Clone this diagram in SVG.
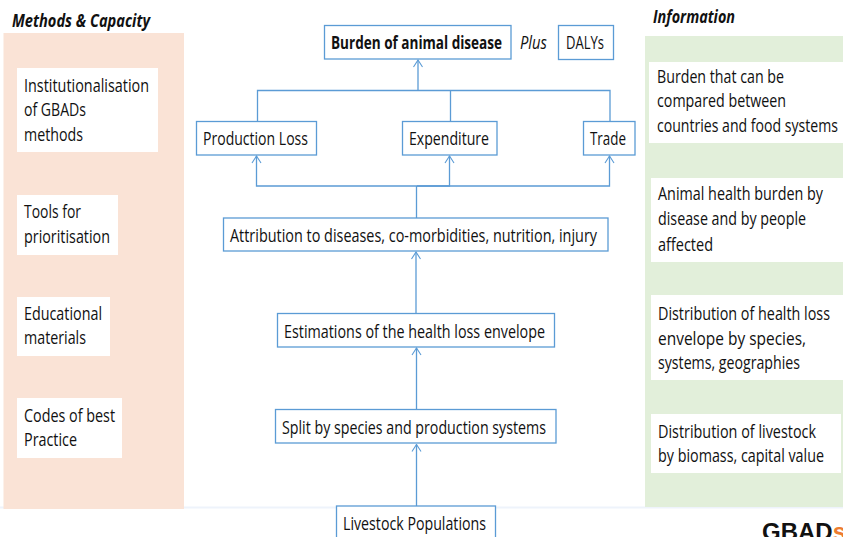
<svg xmlns="http://www.w3.org/2000/svg" width="843" height="537" viewBox="0 0 843 537">
<defs>
<marker id="arr" markerUnits="userSpaceOnUse" markerWidth="10" markerHeight="12" refX="9" refY="6" orient="auto" viewBox="0 0 10 12"><path d="M2 1.500 L9 6 L2 10.500" fill="none" stroke="#5b9bd5" stroke-width="1.100"/></marker>
</defs>
<style>
text{font-family:"Open Sans","Liberation Sans",sans-serif;font-size:18px;fill:#111;}
.b{fill:#fff;stroke:#5b9bd5;stroke-width:1.300;}
.w{fill:#fff;}
.c{fill:none;stroke:#5b9bd5;stroke-width:1.300;}
.i{font-style:italic;}
.t{font-weight:700;}
</style>
<rect width="843" height="537" fill="#fff"/>
<path d="M0 507.500H843" stroke="#eef3fb" stroke-width="2"/>
<g id="panel-methods">
<rect x="3.500" y="33" width="180.500" height="476" fill="#fae3d6"/>
<text class="i t" x="12" y="27" textLength="138" lengthAdjust="spacingAndGlyphs">Methods &amp; Capacity</text>
</g>
<g id="panel-information">
<rect x="645" y="36" width="198" height="471" fill="#e2efda"/>
<text class="i t" x="653" y="23" textLength="82" lengthAdjust="spacingAndGlyphs">Information</text>
</g>
<g id="m1"><rect class="w" x="17" y="68" width="141" height="84"/>
<text x="24" y="92" textLength="125" lengthAdjust="spacingAndGlyphs">Institutionalisation</text>
<text x="24" y="116" textLength="62" lengthAdjust="spacingAndGlyphs">of GBADs</text>
<text x="24" y="141" textLength="59" lengthAdjust="spacingAndGlyphs">methods</text></g>
<g id="m2"><rect class="w" x="17" y="195" width="101" height="60"/>
<text x="24" y="218" textLength="57" lengthAdjust="spacingAndGlyphs">Tools for</text>
<text x="24" y="243" textLength="86" lengthAdjust="spacingAndGlyphs">prioritisation</text></g>
<g id="m3"><rect class="w" x="17" y="297" width="93" height="59"/>
<text x="24" y="320" textLength="78" lengthAdjust="spacingAndGlyphs">Educational</text>
<text x="24" y="344" textLength="62" lengthAdjust="spacingAndGlyphs">materials</text></g>
<g id="m4"><rect class="w" x="17" y="398" width="105" height="60"/>
<text x="24" y="422" textLength="91" lengthAdjust="spacingAndGlyphs">Codes of best</text>
<text x="24" y="446" textLength="53" lengthAdjust="spacingAndGlyphs">Practice</text></g>
<g id="i1"><rect class="w" x="649" y="62" width="194" height="81"/>
<text x="657" y="83" textLength="127" lengthAdjust="spacingAndGlyphs">Burden that can be</text>
<text x="657" y="107" textLength="129" lengthAdjust="spacingAndGlyphs">compared between</text>
<text x="657" y="132" textLength="181" lengthAdjust="spacingAndGlyphs">countries and food systems</text></g>
<g id="i2"><rect class="w" x="651" y="178" width="192" height="84"/>
<text x="658" y="200" textLength="165" lengthAdjust="spacingAndGlyphs">Animal health burden by</text>
<text x="658" y="225" textLength="148" lengthAdjust="spacingAndGlyphs">disease and by people</text>
<text x="658" y="251" textLength="55" lengthAdjust="spacingAndGlyphs">affected</text></g>
<g id="i3"><rect class="w" x="651" y="295" width="192" height="85"/>
<text x="658" y="320" textLength="172" lengthAdjust="spacingAndGlyphs">Distribution of health loss</text>
<text x="658" y="345" textLength="148" lengthAdjust="spacingAndGlyphs">envelope by species,</text>
<text x="658" y="369" textLength="142" lengthAdjust="spacingAndGlyphs">systems, geographies</text></g>
<g id="i4"><rect class="w" x="651" y="414" width="190" height="59"/>
<text x="658" y="438" textLength="158" lengthAdjust="spacingAndGlyphs">Distribution of livestock</text>
<text x="658" y="462" textLength="166" lengthAdjust="spacingAndGlyphs">by biomass, capital value</text></g>
<g id="connectors">
<path class="c" d="M257.500 121V90.500H610V121M450.500 90.500V121"/>
<path class="c" d="M418 90.500V60" marker-end="url(#arr)"/>
<path class="c" d="M416.500 218V186"/>
<path class="c" d="M416.500 186H256.500V156" marker-end="url(#arr)"/>
<path class="c" d="M416.500 186H449.500V156" marker-end="url(#arr)"/>
<path class="c" d="M416.500 186H609.500V156" marker-end="url(#arr)"/>
<path class="c" d="M416 313V252" marker-end="url(#arr)"/>
<path class="c" d="M416.500 409V348" marker-end="url(#arr)"/>
<path class="c" d="M416.500 506V444.500" marker-end="url(#arr)"/>
</g>
<g id="burden"><rect class="b" x="324.500" y="25.500" width="186.500" height="33.500"/>
<text class="t" x="331" y="49" textLength="171" lengthAdjust="spacingAndGlyphs">Burden of animal disease</text></g>
<text class="i" x="520" y="49" textLength="27" lengthAdjust="spacingAndGlyphs">Plus</text>
<g id="dalys"><rect class="b" x="558.500" y="25.500" width="55" height="34"/>
<text x="566" y="49" textLength="38" lengthAdjust="spacingAndGlyphs">DALYs</text></g>
<g id="production"><rect class="b" x="196.500" y="121.500" width="120" height="33.500"/>
<text x="203" y="145" textLength="105" lengthAdjust="spacingAndGlyphs">Production Loss</text></g>
<g id="expenditure"><rect class="b" x="402.500" y="121.500" width="94.500" height="33.500"/>
<text x="409" y="145" textLength="80" lengthAdjust="spacingAndGlyphs">Expenditure</text></g>
<g id="trade"><rect class="b" x="583.500" y="121.500" width="51.500" height="33.500"/>
<text x="590" y="145" textLength="36" lengthAdjust="spacingAndGlyphs">Trade</text></g>
<g id="attribution"><rect class="b" x="223.500" y="218" width="384.500" height="33"/>
<text x="230" y="242" textLength="367" lengthAdjust="spacingAndGlyphs">Attribution to diseases, co-morbidities, nutrition, injury</text></g>
<g id="estimations"><rect class="b" x="277.500" y="313.500" width="277" height="33.500"/>
<text x="284" y="338" textLength="261" lengthAdjust="spacingAndGlyphs">Estimations of the health loss envelope</text></g>
<g id="split"><rect class="b" x="275.500" y="409.500" width="280.500" height="33.500"/>
<text x="282" y="434" textLength="264" lengthAdjust="spacingAndGlyphs">Split by species and production systems</text></g>
<g id="livestock"><rect class="b" x="336.500" y="506" width="159" height="40"/>
<text x="343" y="530" textLength="143" lengthAdjust="spacingAndGlyphs">Livestock Populations</text></g>
<text x="762" y="540" style="font-family:'Liberation Sans',sans-serif;font-size:24px;font-weight:700">GBAD<tspan fill="#ed7d31">s</tspan></text>
</svg>
